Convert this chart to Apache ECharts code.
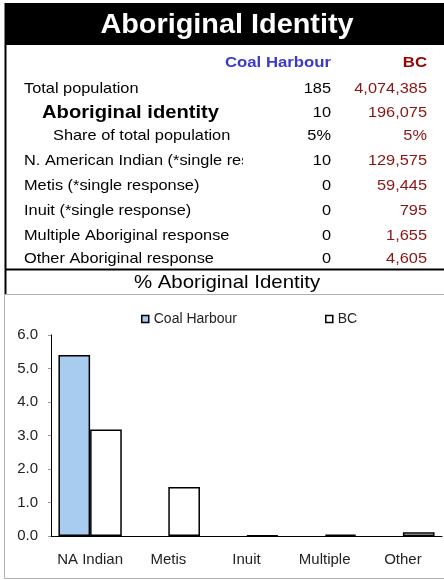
<!DOCTYPE html>
<html>
<head>
<meta charset="utf-8">
<script src="https://cdn.jsdelivr.net/npm/echarts@6/dist/echarts.min.js"></script>
<style>
html,body{margin:0;padding:0;background:#fff;}
#c{width:444px;height:580px;}
</style>
</head>
<body>
<div id="c"></div>
<script>
// ---- Data ----
const tableTitle = "Aboriginal Identity";
const colHeaders = ["Coal Harbour", "BC"];
const rowLabels = [
  "Total population",
  "Aboriginal identity",
  "Share of total population",
  "N. American Indian (*single response)",
  "Metis (*single response)",
  "Inuit (*single response)",
  "Multiple Aboriginal response",
  "Other Aboriginal response"
];
const coalHarbourValues = ["185", "10", "5%", "10", "0", "0", "0", "0"];
const bcValues = ["4,074,385", "196,075", "5%", "129,575", "59,445", "795", "1,655", "4,605"];

const chartTitle = "% Aboriginal Identity";
const seriesNames = ["Coal Harbour", "BC"];
const categories = ["NA Indian", "Metis", "Inuit", "Multiple", "Other"];
const coalHarbourPct = [5.4, 0, 0, 0, 0];
const bcPct = [3.18, 1.46, 0.02, 0.04, 0.11];

// ---- Layout / styling ----
const FONT = "'Liberation Sans', Arial, sans-serif";
const rowY = [89, 113, 136, 161, 186, 211, 236, 259];
const rowX = [24, 42, 53, 24, 24, 24, 24, 24];
const colX = [331, 427];
const SX = 1.09;
const graphics = [];

// title bar
graphics.push({type:'rect', shape:{x:5, y:3, width:439, height:42}, style:{fill:'#000'}});
graphics.push({type:'text', x:227, y:25, scaleX:1.03, style:{text:tableTitle, fill:'#fff', font:"bold 28px " + FONT, textAlign:'center', textVerticalAlign:'middle'}});
// headers
graphics.push({type:'text', x:colX[0], y:63, scaleX:1.08, style:{text:colHeaders[0], fill:'#3a3acf', font:"bold 15.5px " + FONT, textAlign:'right', textVerticalAlign:'middle'}});
graphics.push({type:'text', x:colX[1], y:63, scaleX:1.08, style:{text:colHeaders[1], fill:'#990000', font:"bold 15.5px " + FONT, textAlign:'right', textVerticalAlign:'middle'}});
// rows
rowLabels.forEach((lab, i) => {
  const bold = i === 1;
  graphics.push({type:'text', x:rowX[i], y:rowY[i], scaleX:SX, style:{
    text:lab, fill:'#000', font:(bold ? "bold 18.5px " : "15px ") + FONT,
    textAlign:'left', textVerticalAlign:'middle'
  }});
});
// mask: label cell overflow clipped at column edge
graphics.push({type:'rect', shape:{x:243, y:150, width:62, height:22}, style:{fill:'#fff'}});
rowLabels.forEach((lab, i) => {
  graphics.push({type:'text', x:colX[0], y:rowY[i], scaleX:SX, style:{text:coalHarbourValues[i], fill:'#000', font:"15px " + FONT, textAlign:'right', textVerticalAlign:'middle'}});
  graphics.push({type:'text', x:colX[1], y:rowY[i], scaleX:SX, style:{text:bcValues[i], fill:'#8b1515', font:"15px " + FONT, textAlign:'right', textVerticalAlign:'middle'}});
});
// left border
graphics.push({type:'line', shape:{x1:5.5, y1:3, x2:5.5, y2:295}, style:{stroke:'#000', lineWidth:2}});
// separator
graphics.push({type:'line', shape:{x1:5, y1:269.5, x2:444, y2:269.5}, style:{stroke:'#000', lineWidth:2}});
graphics.push({type:'text', x:227, y:283, scaleX:1.075, style:{text:chartTitle, fill:'#000', font:"19px " + FONT, textAlign:'center', textVerticalAlign:'middle'}});
// chart frame
graphics.push({type:'rect', shape:{x:4.5, y:294.5, width:446, height:284}, style:{fill:null, stroke:'#b0b0b0', lineWidth:1}});

function barData(vals){
  return vals.map(v => v === 0 ? {value:0, itemStyle:{borderWidth:0}} : v);
}

const chart = echarts.init(document.getElementById('c'));
chart.setOption({
  animation:false,
  backgroundColor:'#fff',
  graphic: graphics,
  legend:{
    left:141, top:312, padding:0, itemWidth:7, itemHeight:7, itemGap:88,
    textStyle:{fontFamily:FONT, fontSize:14, color:'#222'},
    data:[
      {name:seriesNames[0], icon:'rect', itemStyle:{color:'#a8cbf0', borderColor:'#000', borderWidth:1.5}},
      {name:seriesNames[1], icon:'rect', itemStyle:{color:'#fff', borderColor:'#000', borderWidth:1.5}}
    ]
  },
  grid:{left:51, top:335, right:2, bottom:44},
  xAxis:{
    type:'category', data:categories,
    axisLine:{lineStyle:{color:'#000', width:1}},
    axisTick:{show:false},
    axisLabel:{fontFamily:FONT, fontSize:15, color:'#222', margin:16, interval:0, hideOverlap:false}
  },
  yAxis:{
    type:'value', min:0, max:6, interval:1,
    axisLine:{show:true, lineStyle:{color:'#000', width:1}},
    axisTick:{show:true, length:3, lineStyle:{color:'#999'}},
    splitLine:{show:false},
    axisLabel:{fontFamily:FONT, fontSize:15, color:'#222', margin:13, formatter:v => v.toFixed(1)}
  },
  series:[
    {name:seriesNames[0], type:'bar', data:barData(coalHarbourPct), barGap:'0%', barCategoryGap:'19%',
     itemStyle:{color:'#a8cbf0', borderColor:'#000', borderWidth:1.5}},
    {name:seriesNames[1], type:'bar', data:barData(bcPct), barGap:'0%', barCategoryGap:'19%',
     itemStyle:{color:'#fff', borderColor:'#000', borderWidth:1.5}}
  ]
});
</script>
</body>
</html>
